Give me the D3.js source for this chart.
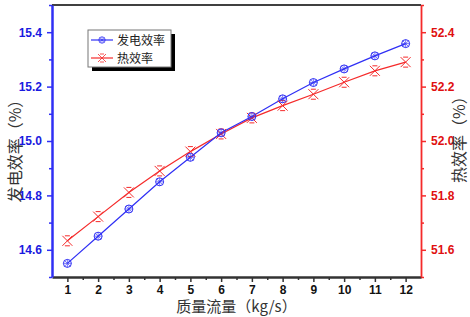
<!DOCTYPE html>
<html>
<head>
<meta charset="utf-8">
<script src="https://cdn.jsdelivr.net/npm/d3@7"></script>
<style>
  body { margin: 0; background: #fff; }
  svg { display: block; }
  .tick text { font-family: Arial, "Liberation Sans", sans-serif; font-weight: bold; font-size: 12px; }
</style>
</head>
<body>
<div id="chart"></div>
<script>
// data
const flow = [1, 2, 3, 4, 5, 6, 7, 8, 9, 10, 11, 12];
const powerEff = [14.55, 14.65, 14.75, 14.85, 14.94, 15.03, 15.09, 15.155, 15.215, 15.265, 15.313, 15.358];
const heatEff = [51.633, 51.722, 51.811, 51.89, 51.961, 52.026, 52.085, 52.13, 52.172, 52.216, 52.258, 52.29];
const leftTicks = [14.6, 14.8, 15.0, 15.2, 15.4];
const rightTicks = [51.6, 51.8, 52.0, 52.2, 52.4];

const W = 470, H = 317;
const margin = { top: 5, right: 49, bottom: 40, left: 52 };
const width = W - margin.left - margin.right;
const height = H - margin.top - margin.bottom;

const blue = "#2f2ff5", red = "#f52a2a";

const svg = d3.select("#chart").append("svg")
    .attr("width", W).attr("height", H);
const g = svg.append("g")
    .attr("transform", `translate(${margin.left},${margin.top})`);

const x = d3.scaleLinear().domain([0.5, 12.5]).range([0, width]);
const yL = d3.scaleLinear().domain([14.5, 15.5]).range([height, 0]);
const yR = d3.scaleLinear().domain([51.5, 52.5]).range([height, 0]);

// top frame line
g.append("line")
    .attr("x1", 0).attr("x2", width).attr("y1", 0).attr("y2", 0)
    .attr("stroke", "#000").attr("stroke-width", 1.5);

// minor ticks
const minorX = d3.range(1.5, 12.5, 1);
g.append("g").attr("transform", `translate(0,${height})`)
    .call(d3.axisBottom(x).tickValues(minorX).tickSize(3).tickFormat(""))
    .call(a => a.select(".domain").remove())
    .selectAll("line").attr("stroke", "#333").attr("stroke-width", 1.5);
const minorY = [14.5, 14.7, 14.9, 15.1, 15.3, 15.5];
g.append("g")
    .call(d3.axisLeft(yL).tickValues(minorY).tickSize(3).tickFormat(""))
    .call(a => a.select(".domain").remove())
    .selectAll("line").attr("stroke", blue).attr("stroke-width", 1.5);
const minorR = [51.5, 51.7, 51.9, 52.1, 52.3, 52.5];
g.append("g").attr("transform", `translate(${width},0)`)
    .call(d3.axisRight(yR).tickValues(minorR).tickSize(3).tickFormat(""))
    .call(a => a.select(".domain").remove())
    .selectAll("line").attr("stroke", red).attr("stroke-width", 1.5);

// x axis
const xAxis = g.append("g").attr("transform", `translate(0,${height})`)
    .call(d3.axisBottom(x).tickValues(flow).tickSize(5).tickSizeOuter(0).tickPadding(3).tickFormat(d3.format("d")));
xAxis.select(".domain").attr("stroke", "#333").attr("stroke-width", 2.5);
xAxis.selectAll(".tick line").attr("stroke", "#333").attr("stroke-width", 1.5);
xAxis.selectAll("text").attr("fill", "#111");

// left axis
const lAxis = g.append("g")
    .call(d3.axisLeft(yL).tickValues(leftTicks).tickSize(5).tickSizeOuter(0).tickPadding(5).tickFormat(d3.format(".1f")));
lAxis.select(".domain").attr("stroke", blue).attr("stroke-width", 2.5);
lAxis.selectAll(".tick line").attr("stroke", blue).attr("stroke-width", 1.5);
lAxis.selectAll("text").attr("fill", "#1a1ae0");

// right axis
const rAxis = g.append("g").attr("transform", `translate(${width},0)`)
    .call(d3.axisRight(yR).tickValues(rightTicks).tickSize(5).tickSizeOuter(0).tickPadding(5).tickFormat(d3.format(".1f")));
rAxis.select(".domain").attr("stroke", red).attr("stroke-width", 1.8);
rAxis.selectAll(".tick line").attr("stroke", red).attr("stroke-width", 1.5);
rAxis.selectAll("text").attr("fill", "#e01010");

// markers
function circleX(sel, color) {
    sel.append("circle").attr("r", 4).attr("fill", "none").attr("stroke", color).attr("stroke-width", 1);
    sel.append("path").attr("d", "M-3,-3L3,3M-3,3L3,-3M-4,0L4,0M0,-4L0,4")
        .attr("stroke", color).attr("stroke-width", 0.8).attr("opacity", 0.8);
}
function starX(sel, color) {
    sel.append("path").attr("d", "M-5,-5L5,5M-5,5L5,-5M-2.5,-5L2.5,-5M-2.5,5L2.5,5")
        .attr("stroke", color).attr("stroke-width", 1).attr("fill", "none");
}

const lineL = d3.line().x((d, i) => x(flow[i])).y(d => yL(d));
const lineR = d3.line().x((d, i) => x(flow[i])).y(d => yR(d));

g.append("path").datum(heatEff).attr("d", lineR)
    .attr("fill", "none").attr("stroke", red).attr("stroke-width", 1.2);
g.append("path").datum(powerEff).attr("d", lineL)
    .attr("fill", "none").attr("stroke", blue).attr("stroke-width", 1.2);

g.selectAll(".mr").data(heatEff).join("g").attr("class", "mr")
    .attr("transform", (d, i) => `translate(${x(flow[i])},${yR(d)})`)
    .each(function () { starX(d3.select(this), red); });
g.selectAll(".mb").data(powerEff).join("g").attr("class", "mb")
    .attr("transform", (d, i) => `translate(${x(flow[i])},${yL(d)})`)
    .each(function () { circleX(d3.select(this), blue); });

// legend
const lg = svg.append("g").attr("transform", "translate(88,30)");
lg.append("rect").attr("x", 4).attr("y", 4).attr("width", 83).attr("height", 37).attr("fill", "#000");
lg.append("rect").attr("x", 0).attr("y", 0).attr("width", 83).attr("height", 37)
    .attr("fill", "#fff").attr("stroke", "#777").attr("stroke-width", 1);
const items = [{ name: "发电效率", color: blue, mk: circleX }, { name: "热效率", color: red, mk: starX }];
items.forEach((it, i) => {
    const yy = 10 + i * 18;
    lg.append("line").attr("x1", 3).attr("x2", 25).attr("y1", yy).attr("y2", yy)
        .attr("stroke", it.color).attr("stroke-width", 1.2);
    const m = lg.append("g").attr("transform", `translate(14,${yy}) scale(0.8)`);
    it.mk(m, it.color);
    lg.append("text").attr("x", 29).attr("y", yy + 4.5)
        .attr("font-family", "'Noto Sans CJK SC', sans-serif").attr("font-size", 12)
        .attr("fill", "#222").text(it.name);
});

// axis titles
const cjk = "'Noto Sans CJK SC', 'Noto Sans', sans-serif";
svg.append("text")
    .attr("transform", `translate(21,${margin.top + yL(15.0) + 6}) rotate(-90)`)
    .attr("text-anchor", "middle").attr("font-family", cjk).attr("font-size", 16)
    .attr("fill", "#333").text("发电效率（%）");
svg.append("text")
    .attr("transform", `translate(465,${margin.top + yR(52.02)}) rotate(-90)`)
    .attr("text-anchor", "middle").attr("font-family", cjk).attr("font-size", 16)
    .attr("fill", "#333").text("热效率（%）");
svg.append("text")
    .attr("x", margin.left + x(6.5)).attr("y", 312)
    .attr("text-anchor", "middle").attr("font-family", cjk).attr("font-size", 15)
    .attr("fill", "#333").text("质量流量（kg/s）");
</script>
</body>
</html>
